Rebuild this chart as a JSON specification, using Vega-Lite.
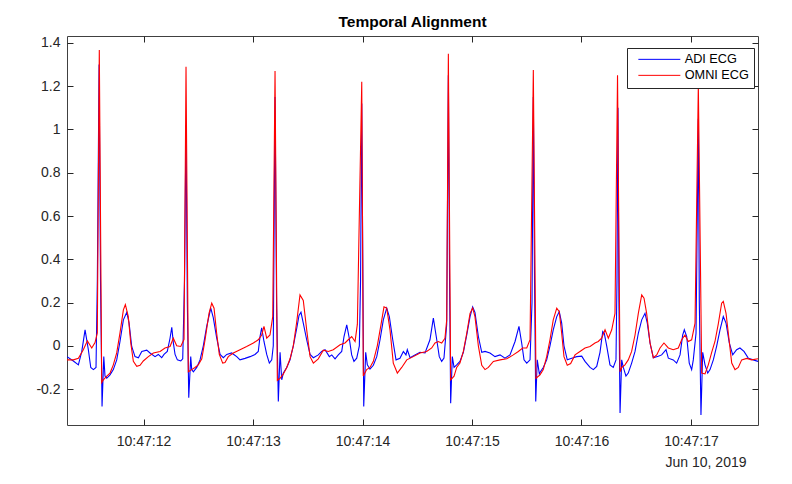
{
"$schema":"https://vega.github.io/schema/vega-lite/v6.json",
"width":691,"height":389,
"autosize":{"type":"none"},
"padding":{"left":67,"top":36,"right":34,"bottom":59},
"background":"white",
"title":{"text":"Temporal Alignment","font":"Liberation Sans","fontSize":15.5,"fontWeight":"bold","color":"#000000","offset":5},
"datasets":{
"adi":[
{"t":11.301,"v":-0.05},{"t":11.359,"v":-0.07},{"t":11.405,"v":-0.088},{"t":11.436,"v":-0.026},{"t":11.466,"v":0.074},{"t":11.496,"v":-0.018},{"t":11.518,"v":-0.10},{"t":11.542,"v":-0.11},{"t":11.566,"v":-0.10},{"t":11.578,"v":0.3},{"t":11.594,"v":1.30},{"t":11.607,"v":0.3},{"t":11.621,"v":-0.28},{"t":11.637,"v":-0.05},{"t":11.648,"v":-0.14},{"t":11.664,"v":-0.15},{"t":11.694,"v":-0.134},{"t":11.724,"v":-0.11},{"t":11.755,"v":-0.065},{"t":11.785,"v":0.02},{"t":11.816,"v":0.12},{"t":11.847,"v":0.155},{"t":11.868,"v":0.105},{"t":11.892,"v":-0.003},{"t":11.922,"v":-0.05},{"t":11.953,"v":-0.055},{"t":11.984,"v":-0.026},{"t":12.029,"v":-0.02},{"t":12.059,"v":-0.033},{"t":12.105,"v":-0.05},{"t":12.135,"v":-0.04},{"t":12.166,"v":-0.055},{"t":12.187,"v":-0.04},{"t":12.217,"v":-0.026},{"t":12.242,"v":0.035},{"t":12.258,"v":0.085},{"t":12.272,"v":0.015},{"t":12.288,"v":-0.04},{"t":12.309,"v":-0.065},{"t":12.340,"v":-0.07},{"t":12.358,"v":-0.06},{"t":12.374,"v":0.3},{"t":12.388,"v":1.02},{"t":12.400,"v":0.2},{"t":12.413,"v":-0.24},{"t":12.431,"v":-0.05},{"t":12.440,"v":-0.11},{"t":12.455,"v":-0.12},{"t":12.486,"v":-0.10},{"t":12.516,"v":-0.065},{"t":12.546,"v":0},{"t":12.577,"v":0.09},{"t":12.614,"v":0.174},{"t":12.637,"v":0.13},{"t":12.668,"v":0.037},{"t":12.699,"v":-0.04},{"t":12.729,"v":-0.055},{"t":12.760,"v":-0.04},{"t":12.805,"v":-0.033},{"t":12.851,"v":-0.05},{"t":12.881,"v":-0.065},{"t":12.927,"v":-0.058},{"t":12.973,"v":-0.05},{"t":13.018,"v":-0.04},{"t":13.048,"v":-0.026},{"t":13.064,"v":0.043},{"t":13.079,"v":0.083},{"t":13.100,"v":0.02},{"t":13.125,"v":-0.04},{"t":13.149,"v":-0.08},{"t":13.171,"v":-0.065},{"t":13.185,"v":0.0},{"t":13.201,"v":1.15},{"t":13.215,"v":0.2},{"t":13.231,"v":-0.257},{"t":13.247,"v":-0.03},{"t":13.262,"v":-0.157},{"t":13.277,"v":-0.126},{"t":13.308,"v":-0.10},{"t":13.338,"v":-0.065},{"t":13.368,"v":0.0},{"t":13.399,"v":0.08},{"t":13.420,"v":0.14},{"t":13.438,"v":0.155},{"t":13.459,"v":0.105},{"t":13.490,"v":0.028},{"t":13.521,"v":-0.04},{"t":13.551,"v":-0.055},{"t":13.596,"v":-0.042},{"t":13.627,"v":-0.026},{"t":13.658,"v":-0.018},{"t":13.697,"v":-0.05},{"t":13.719,"v":-0.042},{"t":13.749,"v":-0.06},{"t":13.779,"v":-0.042},{"t":13.810,"v":-0.026},{"t":13.831,"v":0.043},{"t":13.856,"v":0.097},{"t":13.879,"v":0.035},{"t":13.901,"v":-0.042},{"t":13.922,"v":-0.072},{"t":13.947,"v":-0.057},{"t":13.971,"v":0.0},{"t":13.982,"v":0.3},{"t":13.993,"v":1.12},{"t":14.005,"v":0.2},{"t":14.011,"v":-0.28},{"t":14.029,"v":-0.03},{"t":14.044,"v":-0.088},{"t":14.068,"v":-0.108},{"t":14.099,"v":-0.09},{"t":14.130,"v":-0.05},{"t":14.160,"v":0.028},{"t":14.190,"v":0.12},{"t":14.221,"v":0.174},{"t":14.245,"v":0.135},{"t":14.276,"v":0.028},{"t":14.306,"v":-0.065},{"t":14.342,"v":-0.058},{"t":14.373,"v":-0.026},{"t":14.397,"v":-0.042},{"t":14.409,"v":-0.018},{"t":14.434,"v":-0.055},{"t":14.479,"v":-0.042},{"t":14.525,"v":-0.03},{"t":14.571,"v":-0.033},{"t":14.616,"v":0.028},{"t":14.647,"v":0.128},{"t":14.678,"v":0.028},{"t":14.701,"v":-0.05},{"t":14.723,"v":-0.072},{"t":14.744,"v":-0.057},{"t":14.769,"v":0.1},{"t":14.784,"v":1.25},{"t":14.795,"v":0.3},{"t":14.805,"v":-0.265},{"t":14.820,"v":-0.05},{"t":14.836,"v":-0.1},{"t":14.860,"v":-0.088},{"t":14.890,"v":-0.072},{"t":14.921,"v":-0.03},{"t":14.952,"v":0.05},{"t":14.982,"v":0.135},{"t":15.006,"v":0.18},{"t":15.027,"v":0.155},{"t":15.058,"v":0.043},{"t":15.089,"v":-0.03},{"t":15.119,"v":-0.026},{"t":15.164,"v":-0.033},{"t":15.210,"v":-0.05},{"t":15.256,"v":-0.042},{"t":15.301,"v":-0.057},{"t":15.347,"v":-0.042},{"t":15.393,"v":0.02},{"t":15.429,"v":0.09},{"t":15.454,"v":0.012},{"t":15.475,"v":-0.065},{"t":15.500,"v":-0.08},{"t":15.530,"v":-0.065},{"t":15.548,"v":0.2},{"t":15.560,"v":1.15},{"t":15.571,"v":0.3},{"t":15.582,"v":-0.257},{"t":15.596,"v":-0.065},{"t":15.615,"v":-0.13},{"t":15.625,"v":-0.12},{"t":15.651,"v":-0.1},{"t":15.682,"v":-0.065},{"t":15.712,"v":0.0},{"t":15.742,"v":0.074},{"t":15.774,"v":0.135},{"t":15.797,"v":0.158},{"t":15.819,"v":0.105},{"t":15.840,"v":0.0},{"t":15.870,"v":-0.065},{"t":15.911,"v":-0.057},{"t":15.956,"v":-0.05},{"t":16.002,"v":-0.048},{"t":16.032,"v":-0.072},{"t":16.078,"v":-0.1},{"t":16.108,"v":-0.11},{"t":16.139,"v":-0.095},{"t":16.169,"v":-0.03},{"t":16.194,"v":0.066},{"t":16.208,"v":0.058},{"t":16.230,"v":0.0},{"t":16.260,"v":-0.088},{"t":16.290,"v":-0.1},{"t":16.315,"v":-0.065},{"t":16.324,"v":0.3},{"t":16.333,"v":1.1},{"t":16.342,"v":0.2},{"t":16.352,"v":-0.31},{"t":16.367,"v":-0.065},{"t":16.382,"v":-0.1},{"t":16.406,"v":-0.14},{"t":16.427,"v":-0.126},{"t":16.458,"v":-0.08},{"t":16.489,"v":-0.026},{"t":16.519,"v":0.058},{"t":16.550,"v":0.12},{"t":16.580,"v":0.15},{"t":16.601,"v":0.105},{"t":16.626,"v":0.013},{"t":16.656,"v":-0.055},{"t":16.701,"v":-0.048},{"t":16.732,"v":-0.042},{"t":16.772,"v":-0.018},{"t":16.793,"v":-0.057},{"t":16.838,"v":-0.065},{"t":16.869,"v":-0.08},{"t":16.900,"v":-0.042},{"t":16.924,"v":0.05},{"t":16.939,"v":0.074},{"t":16.961,"v":0.043},{"t":16.984,"v":-0.08},{"t":17.006,"v":-0.11},{"t":17.021,"v":-0.065},{"t":17.046,"v":0.058},{"t":17.067,"v":1.05},{"t":17.076,"v":0.2},{"t":17.091,"v":-0.32},{"t":17.107,"v":-0.03},{"t":17.128,"v":-0.088},{"t":17.153,"v":-0.126},{"t":17.174,"v":-0.11},{"t":17.204,"v":-0.065},{"t":17.235,"v":0.0},{"t":17.265,"v":0.074},{"t":17.295,"v":0.135},{"t":17.320,"v":0.105},{"t":17.350,"v":0.013},{"t":17.381,"v":-0.042},{"t":17.417,"v":-0.018},{"t":17.447,"v":-0.01},{"t":17.484,"v":-0.026},{"t":17.523,"v":-0.057},{"t":17.569,"v":-0.065},{"t":17.612,"v":-0.072}
],
"omni":[
{"t":11.301,"v":-0.065},{"t":11.359,"v":-0.065},{"t":11.405,"v":-0.058},{"t":11.450,"v":-0.018},{"t":11.487,"v":0.023},{"t":11.527,"v":-0.01},{"t":11.557,"v":0.015},{"t":11.578,"v":0.06},{"t":11.596,"v":1.367},{"t":11.618,"v":-0.17},{"t":11.633,"v":-0.157},{"t":11.664,"v":-0.14},{"t":11.694,"v":-0.126},{"t":11.724,"v":-0.088},{"t":11.755,"v":-0.033},{"t":11.785,"v":0.06},{"t":11.816,"v":0.166},{"t":11.834,"v":0.19},{"t":11.861,"v":0.135},{"t":11.883,"v":0.014},{"t":11.907,"v":-0.072},{"t":11.938,"v":-0.095},{"t":11.968,"v":-0.09},{"t":11.998,"v":-0.07},{"t":12.044,"v":-0.05},{"t":12.090,"v":-0.033},{"t":12.151,"v":-0.026},{"t":12.196,"v":-0.01},{"t":12.242,"v":-0.003},{"t":12.272,"v":0.035},{"t":12.303,"v":0.0},{"t":12.340,"v":-0.003},{"t":12.370,"v":0.03},{"t":12.388,"v":1.29},{"t":12.409,"v":-0.12},{"t":12.440,"v":-0.11},{"t":12.470,"v":-0.1},{"t":12.500,"v":-0.088},{"t":12.532,"v":-0.06},{"t":12.562,"v":0.028},{"t":12.598,"v":0.15},{"t":12.623,"v":0.197},{"t":12.644,"v":0.174},{"t":12.668,"v":0.058},{"t":12.692,"v":-0.04},{"t":12.723,"v":-0.08},{"t":12.744,"v":-0.077},{"t":12.774,"v":-0.05},{"t":12.820,"v":-0.033},{"t":12.881,"v":-0.018},{"t":12.942,"v":-0.003},{"t":13.003,"v":0.013},{"t":13.048,"v":0.028},{"t":13.079,"v":0.05},{"t":13.100,"v":0.09},{"t":13.125,"v":0.035},{"t":13.155,"v":0.05},{"t":13.180,"v":0.135},{"t":13.201,"v":1.27},{"t":13.222,"v":-0.16},{"t":13.247,"v":-0.15},{"t":13.277,"v":-0.13},{"t":13.308,"v":-0.1},{"t":13.338,"v":-0.06},{"t":13.368,"v":0.0},{"t":13.399,"v":0.11},{"t":13.429,"v":0.235},{"t":13.459,"v":0.21},{"t":13.490,"v":0.074},{"t":13.521,"v":-0.05},{"t":13.551,"v":-0.08},{"t":13.596,"v":-0.06},{"t":13.642,"v":-0.02},{"t":13.688,"v":-0.026},{"t":13.733,"v":-0.018},{"t":13.795,"v":0.005},{"t":13.840,"v":0.013},{"t":13.870,"v":0.028},{"t":13.901,"v":0.043},{"t":13.932,"v":0.02},{"t":13.953,"v":0.1},{"t":13.993,"v":1.22},{"t":14.007,"v":-0.14},{"t":14.038,"v":-0.11},{"t":14.068,"v":-0.1},{"t":14.099,"v":-0.072},{"t":14.135,"v":0.0},{"t":14.166,"v":0.09},{"t":14.196,"v":0.18},{"t":14.221,"v":0.174},{"t":14.251,"v":0.074},{"t":14.281,"v":-0.08},{"t":14.318,"v":-0.126},{"t":14.358,"v":-0.1},{"t":14.404,"v":-0.065},{"t":14.464,"v":-0.05},{"t":14.525,"v":-0.033},{"t":14.586,"v":-0.026},{"t":14.632,"v":-0.01},{"t":14.662,"v":0.013},{"t":14.692,"v":0.02},{"t":14.723,"v":0.013},{"t":14.753,"v":0.035},{"t":14.769,"v":0.12},{"t":14.784,"v":1.35},{"t":14.805,"v":-0.157},{"t":14.836,"v":-0.14},{"t":14.860,"v":-0.1},{"t":14.890,"v":-0.08},{"t":14.921,"v":-0.026},{"t":14.952,"v":0.058},{"t":14.982,"v":0.15},{"t":15.006,"v":0.175},{"t":15.027,"v":0.135},{"t":15.058,"v":0.0},{"t":15.089,"v":-0.09},{"t":15.119,"v":-0.11},{"t":15.149,"v":-0.1},{"t":15.195,"v":-0.072},{"t":15.256,"v":-0.065},{"t":15.317,"v":-0.06},{"t":15.377,"v":-0.042},{"t":15.423,"v":-0.026},{"t":15.463,"v":-0.01},{"t":15.500,"v":-0.01},{"t":15.530,"v":0.028},{"t":15.560,"v":1.275},{"t":15.584,"v":-0.15},{"t":15.621,"v":-0.134},{"t":15.651,"v":-0.11},{"t":15.682,"v":-0.05},{"t":15.712,"v":0.028},{"t":15.742,"v":0.12},{"t":15.774,"v":0.174},{"t":15.797,"v":0.158},{"t":15.819,"v":0.058},{"t":15.840,"v":-0.05},{"t":15.870,"v":-0.09},{"t":15.901,"v":-0.082},{"t":15.941,"v":-0.042},{"t":15.986,"v":-0.026},{"t":16.032,"v":-0.01},{"t":16.078,"v":-0.003},{"t":16.123,"v":0.013},{"t":16.153,"v":0.02},{"t":16.184,"v":0.035},{"t":16.215,"v":0.074},{"t":16.245,"v":0.035},{"t":16.276,"v":0.074},{"t":16.306,"v":0.15},{"t":16.329,"v":1.25},{"t":16.352,"v":-0.12},{"t":16.367,"v":-0.1},{"t":16.397,"v":-0.088},{"t":16.427,"v":-0.065},{"t":16.458,"v":-0.026},{"t":16.489,"v":0.05},{"t":16.519,"v":0.15},{"t":16.550,"v":0.235},{"t":16.571,"v":0.22},{"t":16.595,"v":0.15},{"t":16.626,"v":0.013},{"t":16.656,"v":-0.055},{"t":16.687,"v":-0.042},{"t":16.717,"v":-0.01},{"t":16.753,"v":0.013},{"t":16.793,"v":-0.01},{"t":16.838,"v":-0.018},{"t":16.884,"v":-0.01},{"t":16.915,"v":0.028},{"t":16.945,"v":0.05},{"t":16.975,"v":0.02},{"t":17.006,"v":0.028},{"t":17.037,"v":0.105},{"t":17.067,"v":1.205},{"t":17.098,"v":-0.126},{"t":17.128,"v":-0.13},{"t":17.158,"v":-0.088},{"t":17.189,"v":-0.03},{"t":17.219,"v":0.02},{"t":17.249,"v":0.1},{"t":17.280,"v":0.197},{"t":17.295,"v":0.205},{"t":17.320,"v":0.15},{"t":17.341,"v":0.058},{"t":17.372,"v":-0.08},{"t":17.402,"v":-0.11},{"t":17.432,"v":-0.1},{"t":17.463,"v":-0.065},{"t":17.509,"v":-0.058},{"t":17.554,"v":-0.065},{"t":17.612,"v":-0.06}
]
},
"layer":[
{"data":{"name":"adi"},
 "mark":{"type":"line","strokeWidth":1.1,"clip":true},
 "encoding":{
  "x":{"field":"t","type":"quantitative","scale":{"domain":[11.301,17.612],"nice":false,"zero":false},
       "axis":{"orient":"bottom","offset":-6,"values":[12,13,14,15,16,17],"labelExpr":"'10:47:' + datum.value","labelPadding":9,"title":"Jun 10, 2019","titleAnchor":"end","titleAlign":"right","titleX":679,"titleY":47,"titleBaseline":"alphabetic"}},
  "y":{"field":"v","type":"quantitative","scale":{"domain":[-0.366,1.432],"nice":false,"zero":false},
       "axis":{"orient":"left","offset":-6,"values":[-0.2,0,0.2,0.4,0.6,0.8,1,1.2,1.4],"labelExpr":"'' + datum.value","labelPadding":7,"title":null}},
  "color":{"datum":"ADI ECG","type":"nominal","scale":{"domain":["ADI ECG","OMNI ECG"],"range":["#0000ff","#ff0000"]},
       "legend":{"orient":"none","legendX":560,"legendY":12,"title":null,"symbolType":"M0,0H42","symbolSize":4,"symbolStrokeWidth":1,"labelFont":"Liberation Sans","labelFontSize":12.7,"labelColor":"#000000","labelOffset":40,"padding":5,"rowPadding":2,"strokeColor":"#262626","fillColor":"#ffffff"}}
 }},
{"data":{"name":"omni"},
 "mark":{"type":"line","strokeWidth":1.1,"clip":true},
 "encoding":{
  "x":{"field":"t","type":"quantitative","axis":{"orient":"top","offset":-6,"values":[12,13,14,15,16,17],"labels":false,"title":null}},
  "y":{"field":"v","type":"quantitative","axis":{"orient":"right","offset":-6,"values":[-0.2,0,0.2,0.4,0.6,0.8,1,1.2,1.4],"labels":false,"title":null}},
  "color":{"datum":"OMNI ECG","type":"nominal"}
 }}
],
"resolve":{"axis":{"x":"independent","y":"independent"}},
"config":{
 "view":{"stroke":"#404040","strokeWidth":1},
 "axis":{"grid":false,"domain":false,"ticks":true,"tickColor":"#262626","tickSize":6,"tickWidth":1,"labelFont":"Liberation Sans","labelFontSize":14,"labelColor":"#262626","titleFont":"Liberation Sans","titleFontSize":14,"titleColor":"#262626","titleFontWeight":"normal"}
}
}
